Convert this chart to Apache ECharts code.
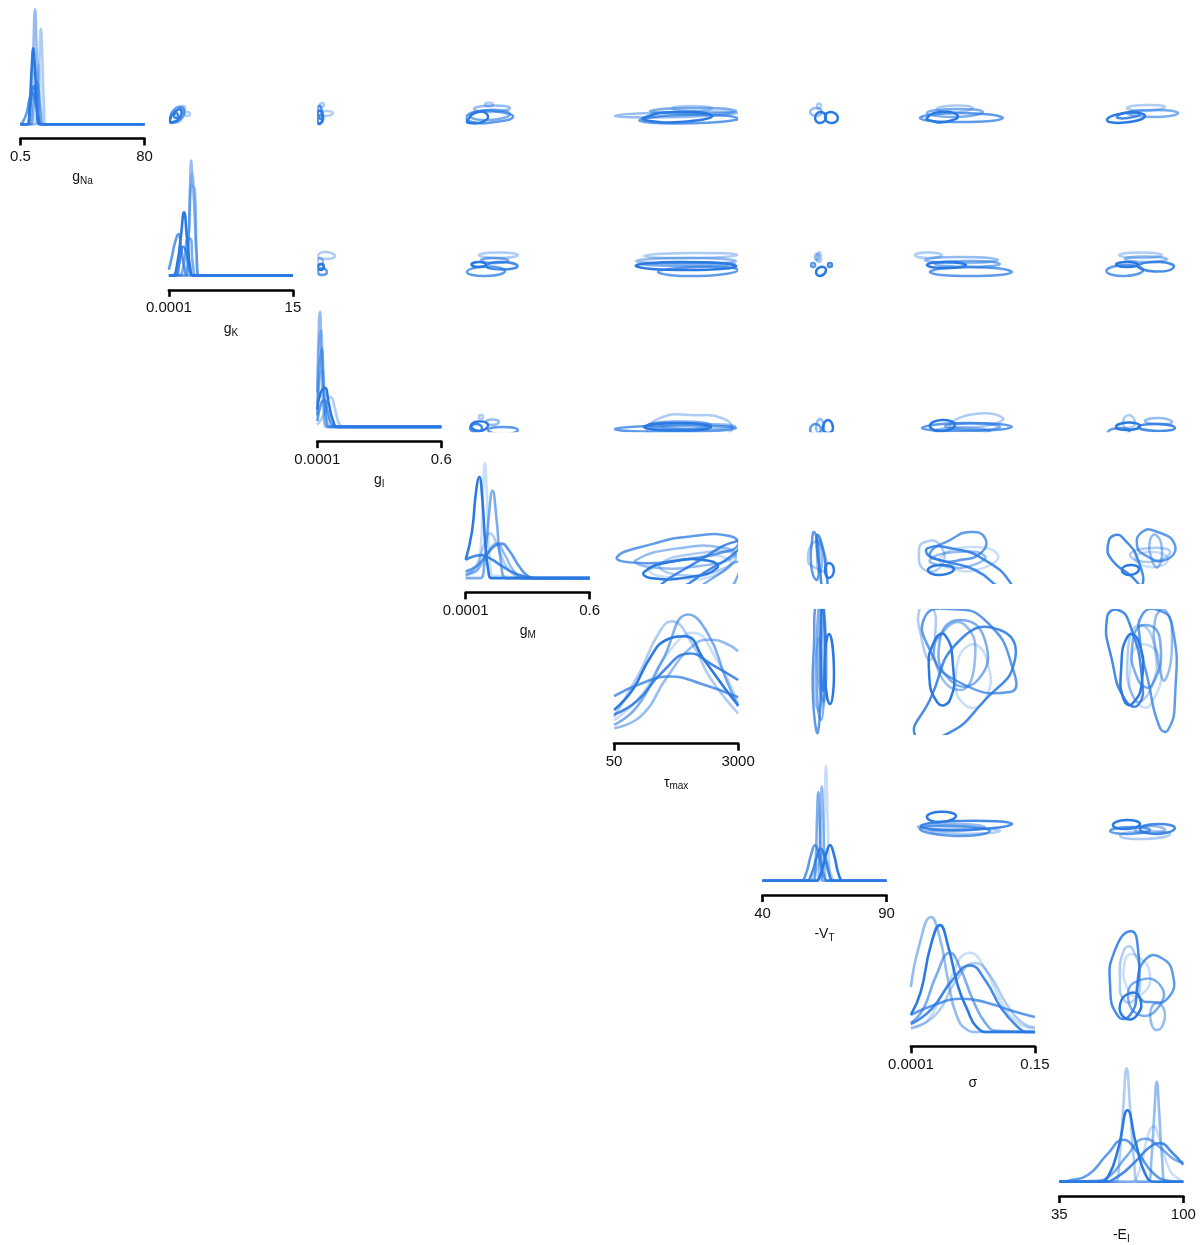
<!DOCTYPE html>
<html>
<head>
<meta charset="utf-8">
<script src="https://cdn.jsdelivr.net/npm/echarts@6/dist/echarts.min.js"></script>
<style>
  html, body { margin: 0; padding: 0; background: #fff; }
  #chart { width: 1204px; height: 1245px; }
</style>
</head>
<body>
<div id="chart"></div>
<script>
// ---- parameters (order of rows / columns in the corner grid) ----
const paramKeys  = ['gNa', 'gK', 'gI', 'gM', 'tauMax', 'VT', 'sigma', 'EI'];
const axisMin    = [0.5, 0.0001, 0.0001, 0.0001, 50, 40, 0.0001, 35];
const axisMax    = [80, 15, 0.6, 0.6, 3000, 90, 0.15, 100];
const tickLabels = [['0.5', '80'], ['0.0001', '15'], ['0.0001', '0.6'], ['0.0001', '0.6'],
                    ['50', '3000'], ['40', '90'], ['0.0001', '0.15'], ['35', '100']];
const axisTitles = [['g', 'Na'], ['g', 'K'], ['g', 'I'], ['g', 'M'],
                    ['τ', 'max'], ['-V', 'T'], ['σ', ''], ['-E', 'I']];

// seven fitted models, each drawn with its own opacity of the same blue
const modelAlpha = [0.25, 0.38, 0.5, 0.62, 0.75, 0.87, 1.0];

// ---- marginal densities (x in parameter units, y relative to tallest curve of the panel) ----
const kde_gNa = [
  { model: 2, pts: [[0.5,0],[6,0],[7.6,0.21],[8.7,0.63],[9.8,1],[10.9,0.63],[12,0.21],[13.5,0],[80,0]] },
  { model: 1, pts: [[0.5,0],[10.5,0],[11.8,0.21],[12.7,0.58],[13.6,0.83],[14.5,0.58],[15.4,0.21],[16.8,0],[80,0]] },
  { model: 6, pts: [[0.5,0],[5,0],[6.5,0.19],[7.6,0.47],[8.7,0.66],[9.8,0.47],[10.9,0.19],[12.3,0],[80,0]] },
  { model: 4, pts: [[0.5,0],[2,0.02],[4.5,0.1],[6.5,0.23],[8.1,0.27],[9.8,0.21],[11.8,0.08],[14.5,0],[80,0]] },
  { model: 3, pts: [[0.5,0],[7,0],[8.8,0.15],[10,0.33],[11,0.37],[12,0.3],[13.4,0.1],[15,0],[80,0]] },
  { model: 0, pts: [[0.5,0],[9,0],[10.5,0.2],[11.4,0.45],[12.2,0.52],[13,0.4],[14,0.12],[15.5,0],[80,0]] },
  { model: 5, pts: [[0.5,0],[4.5,0],[6.5,0.12],[8,0.3],[9.2,0.33],[10.5,0.2],[12,0.04],[13.5,0],[80,0]] }
];
const kde_gK = [
  { model: 2, pts: [[0,0],[2.0,0],[2.35,0.26],[2.55,0.74],[2.7,1],[2.9,0.79],[3.15,0.74],[3.35,0.21],[3.6,0],[15,0]] },
  { model: 0, pts: [[0,0],[2.1,0],[2.4,0.32],[2.65,0.84],[2.85,0.89],[3.1,0.53],[3.4,0.1],[3.7,0],[15,0]] },
  { model: 1, pts: [[0,0],[2.0,0],[2.4,0.37],[2.75,0.79],[3.05,0.63],[3.35,0.16],[3.7,0],[15,0]] },
  { model: 6, pts: [[0,0],[0.5,0],[1.0,0.1],[1.45,0.34],[1.83,0.55],[2.2,0.32],[2.6,0.06],[3.0,0],[15,0]] },
  { model: 4, pts: [[0,0.05],[0.35,0.16],[0.75,0.29],[1.14,0.36],[1.5,0.23],[1.9,0.06],[2.3,0],[15,0]] },
  { model: 3, pts: [[0,0],[1.2,0],[1.8,0.1],[2.3,0.32],[2.6,0.32],[2.9,0.1],[3.3,0],[15,0]] },
  { model: 5, pts: [[0,0],[0.8,0],[1.3,0.12],[1.7,0.25],[2.1,0.2],[2.5,0.05],[2.9,0],[15,0]] }
];
const kde_gI = [
  { model: 2, pts: [[0,0.3],[0.008,0.9],[0.013,1],[0.02,0.63],[0.03,0.16],[0.045,0],[0.6,0]] },
  { model: 1, pts: [[0,0.2],[0.01,0.74],[0.018,0.84],[0.027,0.47],[0.04,0.08],[0.055,0],[0.6,0]] },
  { model: 3, pts: [[0,0.1],[0.012,0.53],[0.022,0.68],[0.032,0.32],[0.045,0.05],[0.06,0],[0.6,0]] },
  { model: 6, pts: [[0,0.15],[0.015,0.29],[0.037,0.34],[0.055,0.21],[0.075,0.06],[0.1,0],[0.6,0]] },
  { model: 1, pts: [[0,0.02],[0.03,0.1],[0.05,0.23],[0.065,0.26],[0.085,0.16],[0.105,0.03],[0.125,0],[0.6,0]] },
  { model: 4, pts: [[0,0.05],[0.02,0.21],[0.035,0.23],[0.05,0.13],[0.07,0.02],[0.09,0],[0.6,0]] },
  { model: 0, pts: [[0,0.1],[0.015,0.45],[0.025,0.5],[0.04,0.2],[0.06,0.02],[0.075,0],[0.6,0]] }
];
const kde_gM = [
  { model: 0, pts: [[0,0.05],[0.04,0.05],[0.07,0.2],[0.083,0.7],[0.093,1],[0.103,0.7],[0.115,0.2],[0.135,0.02],[0.6,0]] },
  { model: 6, pts: [[0,0.16],[0.03,0.4],[0.05,0.75],[0.066,0.88],[0.08,0.7],[0.095,0.3],[0.11,0.06],[0.125,0],[0.6,0]] },
  { model: 3, pts: [[0,0],[0.07,0],[0.09,0.12],[0.11,0.5],[0.13,0.76],[0.15,0.5],[0.17,0.15],[0.2,0],[0.6,0]] },
  { model: 4, pts: [[0,0.06],[0.05,0.1],[0.1,0.2],[0.14,0.28],[0.174,0.3],[0.21,0.24],[0.26,0.1],[0.3,0.02],[0.34,0],[0.6,0]] },
  { model: 5, pts: [[0,0.16],[0.04,0.19],[0.077,0.2],[0.12,0.17],[0.18,0.1],[0.24,0.04],[0.3,0.01],[0.34,0],[0.6,0]] },
  { model: 1, pts: [[0,0.02],[0.05,0.1],[0.09,0.3],[0.118,0.39],[0.15,0.3],[0.19,0.12],[0.24,0.02],[0.27,0],[0.6,0]] },
  { model: 2, pts: [[0,0.03],[0.06,0.08],[0.1,0.2],[0.15,0.3],[0.19,0.2],[0.23,0.07],[0.28,0],[0.6,0]] }
];
const kde_tauMax = [
  { model: 1, pts: [[50,0.11],[666,0.5],[1100,0.83],[1420,0.94],[1900,0.75],[2332,0.45],[3000,0.14]] },
  { model: 3, pts: [[50,0.04],[600,0.2],[1200,0.6],[1815,1.0],[2300,0.82],[2700,0.45],[3000,0.2]] },
  { model: 6, pts: [[50,0.17],[500,0.35],[900,0.62],[1300,0.78],[1740,0.81],[2200,0.6],[2700,0.35],[3000,0.21]] },
  { model: 5, pts: [[50,0.13],[600,0.25],[1200,0.5],[1855,0.66],[2400,0.56],[3000,0.43]] },
  { model: 4, pts: [[50,0.29],[700,0.4],[1380,0.46],[2100,0.4],[3000,0.28]] },
  { model: 2, pts: [[50,0.01],[700,0.12],[1300,0.45],[1900,0.72],[2330,0.78],[2700,0.75],[3000,0.68]] },
  { model: 0, pts: [[50,0.08],[700,0.3],[1300,0.65],[1935,0.84],[2500,0.6],[3000,0.23]] }
];
const kde_VT = [
  { model: 0, pts: [[40,0],[63.3,0],[64.4,0.2],[65,0.6],[65.6,1],[66.2,0.6],[66.8,0.2],[67.9,0],[90,0]] },
  { model: 3, pts: [[40,0],[60.6,0],[61.5,0.2],[62,0.55],[62.5,0.77],[63,0.55],[63.6,0.2],[64.5,0],[90,0]] },
  { model: 2, pts: [[40,0],[62,0],[63,0.25],[63.5,0.6],[63.9,0.82],[64.4,0.6],[65,0.2],[65.8,0],[90,0]] },
  { model: 4, pts: [[40,0],[55.5,0],[57.5,0.06],[59.5,0.22],[61.2,0.31],[62.8,0.22],[64.5,0.06],[66.5,0],[90,0]] },
  { model: 5, pts: [[40,0],[57.5,0],[59.8,0.06],[61.8,0.2],[63.5,0.28],[65.2,0.2],[67,0.05],[68.5,0],[90,0]] },
  { model: 6, pts: [[40,0],[61.5,0],[63.5,0.06],[65.5,0.22],[67.2,0.31],[68.9,0.22],[70.8,0.05],[72.6,0],[90,0]] },
  { model: 1, pts: [[40,0],[59,0],[61,0.06],[63,0.18],[64.5,0.25],[66,0.17],[67.8,0.04],[69.5,0],[90,0]] }
];
const kde_sigma = [
  { model: 2, pts: [[0.0001,0.39],[0.01,0.75],[0.0244,1],[0.035,0.82],[0.045,0.45],[0.055,0.15],[0.068,0.02],[0.08,0],[0.15,0]] },
  { model: 6, pts: [[0.0001,0.15],[0.012,0.35],[0.024,0.75],[0.0353,0.93],[0.045,0.75],[0.057,0.4],[0.068,0.2],[0.08,0.04],[0.095,0],[0.15,0]] },
  { model: 3, pts: [[0.0001,0.08],[0.015,0.2],[0.03,0.48],[0.0474,0.69],[0.06,0.55],[0.075,0.28],[0.09,0.08],[0.104,0.01],[0.15,0]] },
  { model: 0, pts: [[0.0001,0.04],[0.02,0.1],[0.04,0.35],[0.0716,0.69],[0.09,0.55],[0.11,0.25],[0.13,0.08],[0.15,0.03]] },
  { model: 1, pts: [[0.0001,0.03],[0.03,0.15],[0.055,0.45],[0.0776,0.6],[0.095,0.5],[0.115,0.25],[0.135,0.08],[0.15,0.04]] },
  { model: 5, pts: [[0.0001,0.07],[0.025,0.2],[0.05,0.45],[0.0716,0.58],[0.09,0.45],[0.11,0.2],[0.13,0.04],[0.14,0],[0.15,0]] },
  { model: 4, pts: [[0.0001,0.15],[0.03,0.24],[0.0615,0.29],[0.09,0.26],[0.12,0.19],[0.15,0.13]] }
];
const kde_EI = [
  { model: 1, pts: [[35,0],[64.5,0],[66.5,0.2],[68.5,0.65],[70.3,1],[72.1,0.65],[74.1,0.2],[76.4,0],[100,0]] },
  { model: 2, pts: [[35,0],[81.5,0],[83.3,0.2],[84.8,0.6],[86.1,0.88],[87.4,0.6],[88.9,0.2],[90.7,0],[100,0]] },
  { model: 6, pts: [[35,0],[56,0],[61,0.06],[66,0.3],[70.8,0.63],[75,0.35],[80,0.07],[85,0],[100,0]] },
  { model: 0, pts: [[35,0],[72,0],[77,0.1],[81,0.38],[84.3,0.49],[88,0.35],[93,0.1],[98,0.02],[100,0]] },
  { model: 4, pts: [[35,0],[40,0.01],[50,0.06],[60,0.24],[68.6,0.37],[76,0.26],[84,0.08],[92,0.01],[100,0]] },
  { model: 3, pts: [[35,0],[55,0.01],[62,0.06],[70,0.22],[79.9,0.38],[88,0.3],[95,0.2],[100,0.17]] },
  { model: 5, pts: [[35,0],[58,0],[66,0.05],[75,0.18],[82,0.3],[87.8,0.34],[94,0.26],[100,0.15]] }
];

// ---- joint density contours: name = row parameter _ column parameter (y _ x) ----
const c_gNa_gK = [
  { model: 6, x: [0.13,0.86,1.46,1.34,0.5], y: [6.8,12.4,13.1,8.7,5.5] },
  { model: 4, x: [0.07,0.74,1.71,1.59,0.38], y: [6.2,13.7,14.3,8.0,4.9] },
  { model: 5, x: [0.62,0.86,1.1,0.86], y: [9.3,11.2,9.3,8.0] },
  { model: 1, x: [1.46,1.71,1.95,1.71], y: [14.3,15.6,14.3,13.1] },
  { model: 1, x: [1.83,2.19,2.55,2.19], y: [10.6,11.8,10.6,9.3] }
];
const c_gNa_gI = [
  { model: 6, x: [0.001,0.003,0.018,0.027,0.018], y: [5.5,11.8,12.4,9.3,4.9] },
  { model: 4, x: [0.001,0.002,0.013,0.023,0.028,0.013], y: [4.9,14.3,15.6,11.8,6.8,4.3] },
  { model: 1, x: [0.018,0.042,0.075,0.042], y: [10.6,12.4,11.2,9.3] },
  { model: 1, x: [0.013,0.023,0.032,0.023], y: [16.2,17.5,16.2,15.0] },
  { model: 5, x: [0.008,0.015,0.023,0.015], y: [8.7,9.9,8.7,7.4] }
];
const c_gNa_gM = [
  { model: 6, x: [0.006,0.06,0.108,0.079,0.02], y: [6.2,11.8,9.3,5.5,4.9] },
  { model: 4, x: [0.001,0.069,0.166,0.229,0.142,0.03], y: [8.7,12.4,11.8,8.7,5.5,5.5] },
  { model: 2, x: [0.04,0.118,0.214,0.127], y: [13.7,15.9,14.3,11.8] },
  { model: 1, x: [0.093,0.113,0.132,0.113], y: [16.5,17.8,16.5,15.3] },
  { model: 3, x: [0.021,0.118,0.214,0.118], y: [9.3,13.1,10.6,6.8] }
];
const c_gNa_tauMax = [
  { model: 2, x: [40,1620,3000,1620], y: [9.3,11.8,11.2,8.7] },
  { model: 6, x: [738,1499,2379,1618,904], y: [8.0,11.8,9.3,5.5,6.2] },
  { model: 4, x: [666,1618,3000,2095], y: [6.2,9.9,8.0,4.9] },
  { model: 1, x: [1427,1903,2379,1903], y: [14.3,15.6,14.3,12.4] },
  { model: 3, x: [904,2095,2951,2095], y: [12.4,14.3,12.4,10.6] }
];
const c_gNa_VT = [
  { model: 6, x: [61.2,63.2,65.6,63.2], y: [8.0,11.8,8.7,4.9] },
  { model: 6, x: [65.2,67.6,70.4,67.6], y: [8.7,11.8,8.0,4.9] },
  { model: 2, x: [59.2,61.6,64,61.6], y: [11.8,14.3,11.8,9.3] },
  { model: 1, x: [62,62.8,63.6,62.8], y: [15.6,17.2,15.6,14.0] }
];
const c_gNa_sigma = [
  { model: 6, x: [0.0194,0.0352,0.0569,0.0412,0.0254], y: [8.0,11.8,9.3,5.5,6.2] },
  { model: 4, x: [0.011,0.0594,0.1113,0.0594], y: [8.0,11.2,8.0,5.5] },
  { model: 1, x: [0.0316,0.0533,0.075,0.0533], y: [13.7,15.9,14.3,11.8] },
  { model: 3, x: [0.0194,0.0533,0.0872,0.0533], y: [11.2,13.7,11.8,8.7] }
];
const c_gNa_EI = [
  { model: 6, x: [60,69.4,79.9,69.4], y: [6.8,11.2,9.3,5.2] },
  { model: 5, x: [65.2,72,77.3,71], y: [8.7,11.8,10.6,8.0] },
  { model: 1, x: [70.5,79.9,90.4,79.9], y: [14.3,16.2,15.0,12.4] },
  { model: 3, x: [70.5,85.2,97.3,85.2], y: [11.2,13.1,11.2,8.7] }
];
const c_gK_gI = [
  { model: 1, x: [0.003,0.037,0.086,0.037], y: [3.0,3.47,3.0,2.64] },
  { model: 2, x: [0.001,0.013,0.028,0.013], y: [2.29,2.76,2.29,1.93] },
  { model: 6, x: [0.003,0.018,0.032,0.018], y: [1.70,2.05,1.70,1.34] },
  { model: 4, x: [0.003,0.023,0.047,0.023], y: [1.10,1.58,1.10,0.75] }
];
const c_gK_gM = [
  { model: 1, x: [0.064,0.156,0.253,0.156], y: [3.12,3.42,3.12,2.76] },
  { model: 3, x: [0.074,0.137,0.205,0.137], y: [2.47,2.76,2.47,2.17] },
  { model: 6, x: [0.028,0.064,0.098,0.064], y: [1.99,2.29,1.99,1.70] },
  { model: 4, x: [0.006,0.098,0.19,0.098], y: [1.10,1.75,1.22,0.63] },
  { model: 5, x: [0.098,0.166,0.251,0.176], y: [1.81,2.29,1.81,1.40] }
];
const c_gK_tauMax = [
  { model: 1, x: [761,1856,3000,1856], y: [3.0,3.36,3.12,2.76] },
  { model: 2, x: [571,1856,2950,1856], y: [2.41,2.76,2.41,2.05] },
  { model: 6, x: [571,1618,2950,1856], y: [1.81,2.29,1.81,1.34] },
  { model: 4, x: [1094,2093,3000,2093], y: [1.10,1.70,1.34,0.63] },
  { model: 3, x: [666,1856,2926,1856], y: [2.05,2.23,2.05,1.81] }
];
const c_gK_VT = [
  { model: 1, x: [62,62.8,63.6,62.8], y: [2.64,3.47,2.64,2.29] },
  { model: 2, x: [61.2,62,62.8,62], y: [2.88,3.24,2.88,2.53] },
  { model: 4, x: [59.6,60.4,61.2,60.4], y: [1.93,2.17,1.93,1.70] },
  { model: 5, x: [66.4,67.2,68,67.2], y: [1.93,2.17,1.93,1.70] },
  { model: 6, x: [61.6,63.6,65.6,63.2], y: [1.10,1.70,1.34,0.63] }
];
const c_gK_sigma = [
  { model: 1, x: [0.005,0.0207,0.0376,0.0207], y: [3.12,3.42,3.12,2.76] },
  { model: 2, x: [0.017,0.0594,0.1053,0.0594], y: [2.53,2.88,2.53,2.17] },
  { model: 6, x: [0.0195,0.0412,0.0666,0.0412], y: [1.93,2.29,1.93,1.58] },
  { model: 4, x: [0.023,0.0714,0.1222,0.0714], y: [1.10,1.70,1.10,0.63] },
  { model: 3, x: [0.029,0.0714,0.1077,0.0714], y: [2.05,2.41,2.05,1.70] }
];
const c_gK_EI = [
  { model: 1, x: [66.3,77.3,88.8,77.3], y: [3.12,3.42,3.12,2.76] },
  { model: 2, x: [69.4,79.9,91.5,79.9], y: [2.64,2.94,2.64,2.29] },
  { model: 6, x: [64.7,70.5,76.3,70.5], y: [1.99,2.29,1.99,1.70] },
  { model: 4, x: [59.7,69.4,78.9,69.4], y: [1.22,1.93,1.34,0.63] },
  { model: 5, x: [76.3,87.8,95.1,85.2], y: [1.81,2.29,1.70,1.16] }
];
const c_gI_gM = [
  { model: 1, x: [0.064,0.074,0.084,0.074], y: [0.074,0.083,0.074,0.065] },
  { model: 2, x: [0.098,0.127,0.161,0.127], y: [0.050,0.062,0.050,0.036] },
  { model: 6, x: [0.026,0.06,0.108,0.069], y: [0.031,0.053,0.036,0.008] },
  { model: 4, x: [0.108,0.18,0.253,0.18], y: [0.012,0.027,0.012,-0.007] },
  { model: 5, x: [0.021,0.05,0.079,0.05], y: [0.022,0.041,0.022,0.003] }
];
const c_gI_tauMax = [
  { model: 1, x: [856,1142,1856,2712,2807,1856], y: [0.003,0.069,0.083,0.06,0.003,-0.035] },
  { model: 3, x: [856,1618,2355,1618], y: [0.036,0.053,0.036,0.017] },
  { model: 6, x: [761,1618,2355,1618], y: [0.027,0.046,0.027,0.010] },
  { model: 4, x: [48,1618,2950,1618], y: [0.017,0.034,0.022,0.003] },
  { model: 2, x: [1142,2093,2926,2093], y: [0.031,0.041,0.031,0.017] }
];
const c_gI_VT = [
  { model: 6, x: [64.4,66.4,68.4,66.4], y: [0.022,0.060,0.022,-0.002] },
  { model: 4, x: [59.2,61.2,63.6,61.2], y: [0.012,0.041,0.017,-0.007] },
  { model: 2, x: [61.6,63.2,64.8,63.2], y: [0.022,0.065,0.022,-0.002] }
];
const c_gI_sigma = [
  { model: 1, x: [0.0473,0.0775,0.1113,0.0956,0.0714], y: [0.036,0.088,0.069,0.036,0.027] },
  { model: 6, x: [0.023,0.0376,0.0533,0.0376], y: [0.031,0.060,0.036,0.008] },
  { model: 4, x: [0.0134,0.0654,0.1222,0.0654], y: [0.022,0.046,0.027,0.008] },
  { model: 3, x: [0.0412,0.0775,0.1077,0.0775], y: [0.031,0.043,0.027,0.012] },
  { model: 2, x: [0.029,0.0594,0.0956,0.0594], y: [0.008,0.022,0.008,-0.011] }
];
const c_gI_EI = [
  { model: 1, x: [68.4,71,74.7,71.5], y: [0.041,0.083,0.050,0.022] },
  { model: 6, x: [64.7,71,77.3,71], y: [0.027,0.048,0.031,0.012] },
  { model: 4, x: [60.5,66.8,72,65.8], y: [0.003,0.022,0.008,-0.011] },
  { model: 5, x: [76.3,86.7,95.6,86.7], y: [0.027,0.041,0.022,0.008] },
  { model: 2, x: [79.9,87.8,94.1,86.7], y: [0.055,0.069,0.050,0.041] }
];
const c_gM_tauMax = [
  { model: 4, x: [119,973,1925,2805,3000,2570,1618,666], y: [0.127,0.190,0.227,0.227,0.185,0.147,0.113,0.099] },
  { model: 6, x: [761,1380,2332,2498,1856,904], y: [0.056,0.104,0.109,0.075,0.033,0.028] },
  { model: 5, x: [1047,2093,2974,3000,2214,1499], y: [-0.029,0.113,0.203,0.161,0.056,-0.029] },
  { model: 2, x: [571,1618,2689,2926,2093,904], y: [0.113,0.170,0.170,0.132,0.085,0.080] },
  { model: 1, x: [1142,2093,2926,2570,1618], y: [0.090,0.147,0.137,0.066,0.042] },
  { model: 0, x: [904,1856,2807,2451,1499], y: [0.066,0.123,0.113,0.042,0.028] },
  { model: 3, x: [2093,2689,3000,3000,2689], y: [-0.029,0.066,0.104,0.042,-0.029] }
];
const c_gM_VT = [
  { model: 4, x: [59.6,60,60.8,62.4,62.8,61.6], y: [0.090,0.208,0.246,0.185,0.066,0.019] },
  { model: 6, x: [65.2,66.8,68.8,66.8], y: [0.066,0.099,0.066,0.028] },
  { model: 1, x: [58.3,60.8,64,65.6,61.6], y: [0.113,0.199,0.170,0.066,0.075] },
  { model: 5, x: [62,64,65.6,66,64.4,63.2,62], y: [0.232,0.185,0.066,-0.029,-0.029,0.066,0.161] },
  { model: 2, x: [62.4,63.6,64,62.8,62], y: [0.208,0.170,0.090,0.056,0.137] }
];
const c_gM_sigma = [
  { model: 6, x: [0.0207,0.0352,0.0521,0.0352], y: [0.066,0.090,0.071,0.042] },
  { model: 4, x: [0.023,0.0473,0.0714,0.0896,0.0859,0.0594,0.0352], y: [0.146,0.208,0.246,0.218,0.151,0.113,0.113] },
  { model: 5, x: [0.0207,0.0473,0.0896,0.1222,0.1138,0.0775,0.0352,0.0207], y: [0.170,0.170,0.113,-0.005,-0.029,0.066,0.113,0.137] },
  { model: 1, x: [0.0098,0.017,0.0352,0.0376,0.017], y: [0.151,0.199,0.185,0.090,0.066] },
  { model: 0, x: [0.0352,0.0714,0.1053,0.0835,0.0473], y: [0.123,0.175,0.137,0.071,0.075] },
  { model: 2, x: [0.023,0.0533,0.0896,0.0714,0.0412], y: [0.113,0.151,0.132,0.085,0.085] }
];
const c_gM_EI = [
  { model: 4, x: [75.7,78.4,85.2,95.6,90.4,79.9], y: [0.185,0.246,0.251,0.185,0.113,0.137] },
  { model: 5, x: [60.5,64.2,69.4,76.3,78.4,72.1,62.6], y: [0.185,0.232,0.208,0.113,-0.005,0.042,0.113] },
  { model: 6, x: [67.8,72.1,76.8,72.1], y: [0.066,0.090,0.071,0.042] },
  { model: 1, x: [72.1,82.6,93.1,82.6], y: [0.137,0.170,0.151,0.104] },
  { model: 2, x: [82.6,85.7,88.8,86.7,83.6], y: [0.208,0.232,0.161,0.080,0.113] },
  { model: 0, x: [74.7,85.2,92,82.6], y: [0.123,0.151,0.113,0.080] }
];
const c_tauMax_VT = [
  { model: 4, x: [60.4,60.8,61.6,63.2,63.6,62.4], y: [871,2270,3203,3203,1804,125] },
  { model: 6, x: [65.2,66.8,68.8,67.2], y: [1570,2410,1570,777] },
  { model: 3, x: [62,62.8,64.4,64.8,63.6], y: [1104,3203,3203,1104,404] },
  { model: 2, x: [62.8,64,65.6,64.8], y: [1337,3086,2270,871] },
  { model: 1, x: [61.2,62.4,64,63.2], y: [871,2270,1804,637] },
  { model: 0, x: [63.2,64.4,65.6,64.8], y: [1337,2737,1804,754] },
  { model: 5, x: [63.6,64.4,65.2,64.4,63.6], y: [2737,3086,2037,1104,1570] }
];
const c_tauMax_sigma = [
  { model: 4, x: [0.017,0.0473,0.092,0.1246,0.1198,0.0533,0.0231], y: [2807,2993,2690,1524,1057,1337,2037] },
  { model: 6, x: [0.0219,0.0291,0.0412,0.0509,0.0473,0.0327], y: [1570,2270,2387,1687,871,801] },
  { model: 5, x: [0.005,0.023,0.0594,0.1077,0.1258,0.0896,0.0412], y: [55,871,2270,2503,1804,871,55] },
  { model: 0, x: [0.0545,0.0714,0.092,0.0896,0.0654], y: [1454,2154,1804,871,754] },
  { model: 1, x: [0.011,0.0134,0.0231,0.0291,0.0255], y: [3020,2270,1804,2270,3086] },
  { model: 2, x: [0.029,0.0412,0.0654,0.0775,0.0594], y: [1804,2503,2620,1804,1104] },
  { model: 3, x: [0.0352,0.0594,0.0896,0.081,0.0473], y: [2270,2737,2270,1337,1337] }
];
const c_tauMax_EI = [
  { model: 5, x: [60,65.8,72.1,78.4,76.3,69.5,62.6], y: [2783,2970,2620,1337,754,871,1804] },
  { model: 6, x: [67.4,71,76.3,78.4,73.1,68.9], y: [1570,2364,2270,1337,777,871] },
  { model: 4, x: [78.4,86.7,94.1,95.6,92,87.8,81.5,77.3], y: [2853,2970,2620,871,171,218,1337,2270] },
  { model: 1, x: [71,77.3,85.2,82.6,74.7], y: [2037,2620,2037,1104,871] },
  { model: 0, x: [72.1,77.3,87.8,82.6,74.7], y: [1570,2154,1804,754,871] },
  { model: 2, x: [85.2,90.4,94.1,90.4,86.7], y: [2737,2970,2270,1337,1804] },
  { model: 3, x: [73.6,79.9,87.8,83.6,76.3], y: [2270,2620,2270,1220,1337] }
];
const c_VT_sigma = [
  { model: 6, x: [0.0195,0.0352,0.0545,0.0352], y: [67.5,69.5,67.9,65.5] },
  { model: 5, x: [0.0122,0.0594,0.1222,0.0594], y: [63.9,65.9,64.7,62.3] },
  { model: 4, x: [0.011,0.0533,0.0956,0.0533], y: [62.7,63.9,61.9,60.0] },
  { model: 2, x: [0.0085,0.0473,0.0896,0.0473], y: [63.5,64.7,63.5,61.9] },
  { model: 1, x: [0.023,0.0654,0.1077,0.0654], y: [61.9,63.1,61.9,60.8] }
];
const c_VT_EI = [
  { model: 6, x: [63.1,70,77.3,70], y: [64.3,66.3,64.7,62.7] },
  { model: 4, x: [61.6,72.1,82.6,72.1], y: [61.9,63.5,62.3,60.8] },
  { model: 5, x: [77.3,86.7,95.6,86.7], y: [62.7,64.7,63.1,60.8] },
  { model: 1, x: [66.8,79.9,93.1,79.9], y: [60.0,61.9,60.8,58.8] },
  { model: 2, x: [74.7,82.6,90.4,82.6], y: [62.3,63.9,62.3,61.1] }
];
const c_sigma_EI = [
  { model: 5, x: [61.6,64.2,72.6,76.3,75.8,72.1,65.8], y: [0.0626,0.104,0.1265,0.104,0.0566,0.0270,0.0258] },
  { model: 6, x: [66.8,72.1,77.3,75.8,69.5], y: [0.0389,0.0531,0.0472,0.0270,0.0235] },
  { model: 4, x: [75.8,79.9,87.8,94.6,92,82.6,77.3], y: [0.0626,0.0922,0.0958,0.0744,0.0472,0.0424,0.0472] },
  { model: 1, x: [66.8,68.9,73.1,77.3,74.2,68.9], y: [0.0685,0.104,0.1065,0.0685,0.0448,0.0448] },
  { model: 2, x: [82.6,86.2,90.4,86.2], y: [0.0270,0.0412,0.0270,0.0092] },
  { model: 3, x: [71,77.3,87.8,87.8,77.3], y: [0.0507,0.0685,0.0626,0.0389,0.0270] },
  { model: 0, x: [69.5,74.7,82.6,77.3,71], y: [0.0922,0.0981,0.0744,0.0507,0.0566] }
];

// ---- assembly ----
const diagDensities = [kde_gNa, kde_gK, kde_gI, kde_gM, kde_tauMax, kde_VT, kde_sigma, kde_EI];
const upperCells = [
  [0, 1, c_gNa_gK], [0, 2, c_gNa_gI], [0, 3, c_gNa_gM], [0, 4, c_gNa_tauMax], [0, 5, c_gNa_VT], [0, 6, c_gNa_sigma], [0, 7, c_gNa_EI],
  [1, 2, c_gK_gI], [1, 3, c_gK_gM], [1, 4, c_gK_tauMax], [1, 5, c_gK_VT], [1, 6, c_gK_sigma], [1, 7, c_gK_EI],
  [2, 3, c_gI_gM], [2, 4, c_gI_tauMax], [2, 5, c_gI_VT], [2, 6, c_gI_sigma], [2, 7, c_gI_EI],
  [3, 4, c_gM_tauMax], [3, 5, c_gM_VT], [3, 6, c_gM_sigma], [3, 7, c_gM_EI],
  [4, 5, c_tauMax_VT], [4, 6, c_tauMax_sigma], [4, 7, c_tauMax_EI],
  [5, 6, c_VT_sigma], [5, 7, c_VT_EI],
  [6, 7, c_sigma_EI]
];

const FONT = '"Liberation Sans", Arial, Helvetica, sans-serif';
const BLUE = [42, 122, 226];
const modelColor = m => `rgba(${BLUE[0]},${BLUE[1]},${BLUE[2]},${modelAlpha[m]})`;

// panel geometry
const CELL_X0 = 20.5, CELL_DX = 148.4, CELL_W = 124;
const CELL_Y0 = 3.5, CELL_DY = 151.3, CELL_H = 126.5;

const grids = [], xAxes = [], yAxes = [], series = [];
function addGrid(r, c) {
  grids.push({ left: CELL_X0 + CELL_DX * c, top: CELL_Y0 + CELL_DY * r, width: CELL_W, height: CELL_H });
  return grids.length - 1;
}

// diagonal panels: marginal densities with a bracket-style bottom axis
paramKeys.forEach((key, i) => {
  const gi = addGrid(i, i);
  const lo = axisMin[i], hi = axisMax[i];
  const t = axisTitles[i];
  xAxes.push({
    gridIndex: gi, type: 'value', min: lo, max: hi, position: 'bottom', offset: 8.5,
    axisLine: { show: true, onZero: false, lineStyle: { color: '#000', width: 2.6 } },
    axisTick: { show: true, customValues: [lo, hi], length: 7, lineStyle: { color: '#000', width: 2.6 } },
    axisLabel: {
      show: true, customValues: [lo, hi], margin: 11, fontSize: 15, color: '#111', fontFamily: FONT,
      formatter: v => (Math.abs(v - lo) < Math.abs(v - hi) ? tickLabels[i][0] : tickLabels[i][1])
    },
    splitLine: { show: false },
    name: '{m|' + t[0] + '}' + (t[1] ? '{s|' + t[1] + '}' : ''),
    nameLocation: 'middle', nameGap: 30,
    nameTextStyle: {
      rich: {
        m: { fontSize: 14, color: '#111', fontFamily: FONT },
        s: { fontSize: 10, color: '#111', fontFamily: FONT, padding: [8, 0, 0, 0] }
      }
    }
  });
  yAxes.push({ gridIndex: gi, type: 'value', min: -0.05, max: 1.05, show: false });
  diagDensities[i].forEach(curve => {
    series.push({
      type: 'line', xAxisIndex: gi, yAxisIndex: gi, data: curve.pts,
      smooth: 0.5, symbol: 'none', silent: true, clip: true,
      lineStyle: { color: modelColor(curve.model), width: 2.6 }
    });
  });
});

// upper triangle: closed contour loops, x = column parameter, y = row parameter
upperCells.forEach(([r, c, loops]) => {
  const gi = addGrid(r, c);
  xAxes.push({ gridIndex: gi, type: 'value', min: axisMin[c], max: axisMax[c], show: false });
  yAxes.push({ gridIndex: gi, type: 'value', min: axisMin[r], max: axisMax[r], show: false });
  series.push({
    type: 'custom', xAxisIndex: gi, yAxisIndex: gi, clip: true, silent: true,
    data: loops.map((l, k) => [l.x[0], l.y[0], k]),
    renderItem: (params, api) => {
      const loop = loops[params.dataIndex];
      const pts = loop.x.map((xv, k) => api.coord([xv, loop.y[k]]));
      const cs = params.coordSys;
      return {
        type: 'polygon',
        shape: { points: pts, smooth: 0.55 },
        style: { fill: 'none', stroke: modelColor(loop.model), lineWidth: 2.5 },
        clipPath: { type: 'rect', shape: { x: cs.x, y: cs.y, width: cs.width, height: cs.height } }
      };
    }
  });
});

const chart = echarts.init(document.getElementById('chart'), null, { renderer: 'canvas' });
chart.setOption({
  backgroundColor: '#ffffff',
  animation: false,
  grid: grids,
  xAxis: xAxes,
  yAxis: yAxes,
  series: series
});
</script>
</body>
</html>
